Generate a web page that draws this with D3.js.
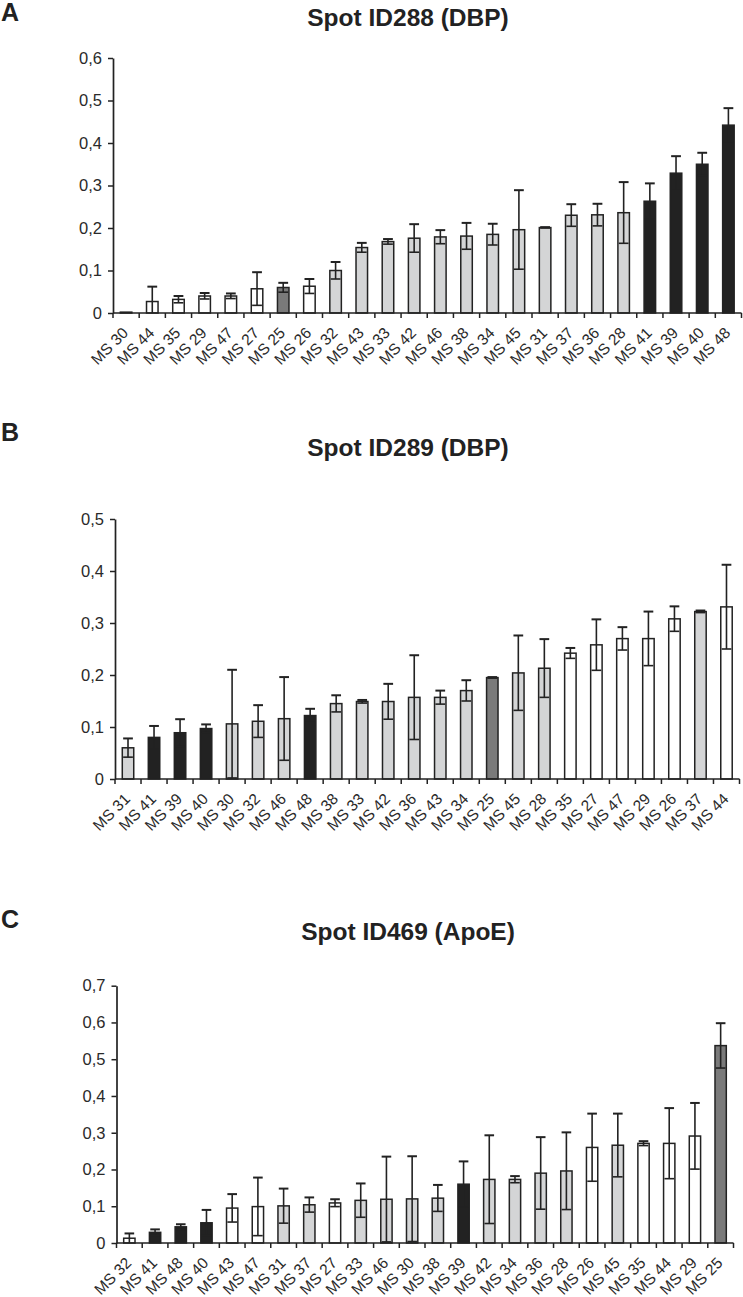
<!DOCTYPE html>
<html><head><meta charset="utf-8">
<script src="https://cdn.jsdelivr.net/npm/d3@7"></script>
<style>body{margin:0;background:#fff} svg{display:block}</style>
</head><body><svg id="c" width="743" height="1297"></svg>
<script>
// ---- Panel A: Spot ID288 (DBP)
const catsA = ["MS 30","MS 44","MS 35","MS 29","MS 47","MS 27","MS 25","MS 26","MS 32","MS 43","MS 33","MS 42","MS 46","MS 38","MS 34","MS 45","MS 31","MS 37","MS 36","MS 28","MS 41","MS 39","MS 40","MS 48"];
const meanA = [0.002,0.027,0.032,0.040,0.040,0.057,0.060,0.063,0.100,0.154,0.168,0.176,0.179,0.181,0.185,0.196,0.201,0.230,0.231,0.236,0.263,0.329,0.350,0.442];
const sdA   = [0.000,0.035,0.008,0.007,0.006,0.039,0.011,0.017,0.020,0.011,0.006,0.033,0.016,0.031,0.025,0.093,0.001,0.026,0.026,0.072,0.042,0.040,0.027,0.040];
const grpA  = ["w","w","w","w","w","w","d","w","l","l","l","l","l","l","l","l","l","l","l","l","b","b","b","b"];
const ticksA = [0,0.1,0.2,0.3,0.4,0.5,0.6];

// ---- Panel B: Spot ID289 (DBP)
const catsB = ["MS 31","MS 41","MS 39","MS 40","MS 30","MS 32","MS 46","MS 48","MS 38","MS 33","MS 42","MS 36","MS 43","MS 34","MS 25","MS 45","MS 28","MS 35","MS 27","MS 47","MS 29","MS 26","MS 37","MS 44"];
const meanB = [0.060,0.080,0.089,0.097,0.106,0.111,0.116,0.122,0.145,0.149,0.149,0.157,0.157,0.170,0.195,0.204,0.213,0.242,0.258,0.270,0.270,0.308,0.322,0.331];
const sdB   = [0.018,0.022,0.026,0.008,0.104,0.031,0.080,0.013,0.016,0.003,0.034,0.081,0.013,0.020,0.001,0.072,0.056,0.010,0.049,0.022,0.052,0.024,0.002,0.081];
const grpB  = ["l","b","b","b","l","l","l","b","l","l","l","l","l","l","d","l","l","w","w","w","w","w","l","w"];
const ticksB = [0,0.1,0.2,0.3,0.4,0.5];

// ---- Panel C: Spot ID469 (ApoE)
const catsC = ["MS 32","MS 41","MS 48","MS 40","MS 43","MS 47","MS 31","MS 37","MS 27","MS 33","MS 46","MS 30","MS 38","MS 39","MS 42","MS 34","MS 36","MS 28","MS 26","MS 45","MS 35","MS 44","MS 29","MS 25"];
const meanC = [0.013,0.029,0.044,0.055,0.095,0.099,0.101,0.104,0.109,0.116,0.119,0.120,0.122,0.160,0.173,0.173,0.190,0.196,0.260,0.266,0.271,0.271,0.291,0.537];
const sdC   = [0.013,0.008,0.007,0.035,0.038,0.079,0.047,0.020,0.010,0.046,0.116,0.116,0.036,0.062,0.120,0.009,0.098,0.105,0.092,0.086,0.006,0.096,0.090,0.061];
const grpC  = ["w","b","b","b","w","w","l","l","w","l","l","l","l","b","l","l","l","l","w","l","w","w","w","d"];
const ticksC = [0,0.1,0.2,0.3,0.4,0.5,0.6,0.7];

const titles = ["Spot ID288 (DBP)","Spot ID289 (DBP)","Spot ID469 (ApoE)"];
const letters = ["A","B","C"];

const fill = d3.scaleOrdinal().domain(["w","l","d","b"]).range(["#ffffff","#d4d5d6","#7a7a7a","#222222"]);
const loc = d3.formatLocale({decimal:",",thousands:".",grouping:[3],currency:["","€"]});
const f1 = loc.format(".1f");
const tickFmt = v => v === 0 ? "0" : f1(v);

const svg = d3.select("#c");
const FONT = "'Liberation Sans', Arial, Helvetica, sans-serif";
const INK = "#222";

const layouts = [
  {x0:113, x1:741.5, y0:313, yTop:58,  letterY:21,  titleY:26},
  {x0:115, x1:739.5, y0:779, yTop:519, letterY:441, titleY:456},
  {x0:116.5, x1:733.5, y0:1243, yTop:985.7, letterY:928, titleY:940}
];
const datasets = [
  {cats:catsA, mean:meanA, sd:sdA, grp:grpA, ticks:ticksA},
  {cats:catsB, mean:meanB, sd:sdB, grp:grpB, ticks:ticksB},
  {cats:catsC, mean:meanC, sd:sdC, grp:grpC, ticks:ticksC}
];

datasets.forEach((ds, i) => {
  const L = layouts[i];
  const g = svg.append("g");
  const x = d3.scaleBand().domain(ds.cats).range([L.x0, L.x1]).paddingInner(0.56).paddingOuter(0.28);
  const step = (L.x1 - L.x0) / ds.cats.length;
  const ymax = ds.ticks[ds.ticks.length - 1];
  const y = d3.scaleLinear().domain([0, ymax]).range([L.y0, L.yTop]);

  // letter & title
  g.append("text").attr("x", 1).attr("y", L.letterY).text(letters[i])
    .attr("font-family", FONT).attr("font-weight", "bold").attr("font-size", 25).attr("fill", INK);
  g.append("text").attr("x", 408).attr("y", L.titleY).attr("text-anchor", "middle").text(titles[i])
    .attr("font-family", FONT).attr("font-weight", "bold").attr("font-size", 24.5).attr("fill", INK);

  // bars
  const rows = ds.cats.map((c, k) => ({c, m: ds.mean[k], s: ds.sd[k], g: ds.grp[k]}));
  const bw = x.bandwidth();
  g.selectAll("rect.bar").data(rows).join("rect").attr("class", "bar")
    .attr("x", d => x(d.c)).attr("width", bw)
    .attr("y", d => y(d.m)).attr("height", d => L.y0 - y(d.m))
    .attr("fill", d => fill(d.g)).attr("stroke", INK).attr("stroke-width", 1.5);

  // error bars
  const capW = bw * 0.85;
  const eb = g.selectAll("g.eb").data(rows.filter(d => d.s > 0)).join("g").attr("class", "eb")
    .attr("stroke", INK).attr("stroke-width", 1.6).attr("fill", "none");
  eb.append("line")
    .attr("x1", d => x(d.c) + bw / 2).attr("x2", d => x(d.c) + bw / 2)
    .attr("y1", d => y(d.m + d.s)).attr("y2", d => y(Math.max(0, d.m - d.s)));
  eb.append("line")
    .attr("x1", d => x(d.c) + bw / 2 - capW / 2).attr("x2", d => x(d.c) + bw / 2 + capW / 2)
    .attr("y1", d => y(d.m + d.s)).attr("y2", d => y(d.m + d.s)).attr("stroke-width", 2);
  eb.filter(d => d.m - d.s > 0).append("line")
    .attr("x1", d => x(d.c) + bw / 2 - capW / 2).attr("x2", d => x(d.c) + bw / 2 + capW / 2)
    .attr("y1", d => y(d.m - d.s)).attr("y2", d => y(d.m - d.s));

  // y axis
  const ya = g.append("g").attr("transform", `translate(${L.x0},0)`)
    .call(d3.axisLeft(y).tickValues(ds.ticks).tickFormat(tickFmt).tickSize(5).tickPadding(6).tickSizeOuter(0));
  ya.select(".domain").attr("stroke", INK).attr("stroke-width", 1.7);
  ya.selectAll(".tick line").attr("stroke", INK).attr("stroke-width", 1.5);
  ya.selectAll(".tick text").attr("font-family", FONT).attr("font-size", 16.5).attr("fill", "#2a2a2a");

  // x axis line and boundary ticks
  g.append("line").attr("x1", L.x0).attr("x2", L.x1).attr("y1", L.y0).attr("y2", L.y0)
    .attr("stroke", INK).attr("stroke-width", 1.7);
  const bounds = d3.range(ds.cats.length + 1).map(k => L.x0 + k * step);
  g.selectAll("line.xt").data(bounds).join("line").attr("class", "xt")
    .attr("x1", d => d).attr("x2", d => d).attr("y1", L.y0).attr("y2", L.y0 + 5)
    .attr("stroke", INK).attr("stroke-width", 1.5);

  // x labels
  g.selectAll("text.xl").data(ds.cats).join("text").attr("class", "xl")
    .attr("transform", d => `translate(${x(d) + bw / 2 + 3},${L.y0 + 21}) rotate(-45)`)
    .attr("text-anchor", "end").text(d => d)
    .attr("font-family", FONT).attr("font-size", 15.5).attr("fill", "#2a2a2a");
});
</script>
</body></html>
